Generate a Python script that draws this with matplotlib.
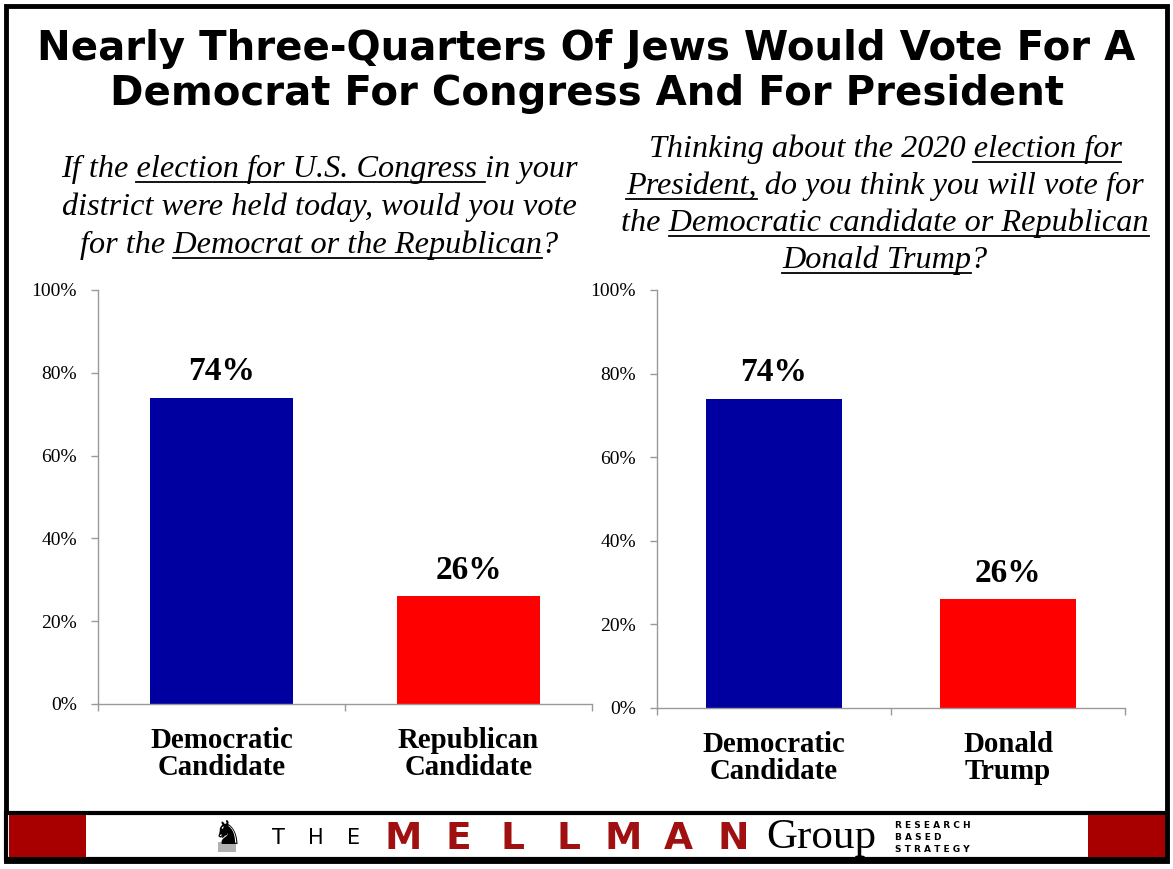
import matplotlib
matplotlib.use("Agg")
import matplotlib.pyplot as plt
from matplotlib.lines import Line2D
from matplotlib.patches import Rectangle

# chart data
congress_labels = ["Democratic\nCandidate", "Republican\nCandidate"]
congress_values = [74, 26]
president_labels = ["Democratic\nCandidate", "Donald\nTrump"]
president_values = [74, 26]
bar_colors = ["#0000A0", "#FF0000"]
yticks = [0, 20, 40, 60, 80, 100]

title_lines = ["Nearly Three-Quarters Of Jews Would Vote For A",
               "Democrat For Congress And For President"]

# (text, underlined) pieces for each subtitle line
left_question = [
    [("If the ", False), ("election for U.S. Congress ", True), ("in your", False)],
    [("district were held today, would you vote", False)],
    [("for the ", False), ("Democrat or the Republican", True), ("?", False)],
]
right_question = [
    [("Thinking about the 2020 ", False), ("election for", True)],
    [("President,", True), (" do you think you will vote for", False)],
    [("the ", False), ("Democratic candidate or Republican", True)],
    [("Donald Trump", True), ("?", False)],
]

W, H = 1173, 869
fig = plt.figure(figsize=(W / 100, H / 100), dpi=100)
renderer = fig.canvas.get_renderer()

SERIF = "Liberation Serif"


def fx(x):
    return x / W


def fy(y):
    return 1 - y / H


def text_width(s, **kw):
    # width of a string in pixels, spaces included (measured against a sentinel)
    t = fig.text(0, 0, s + "|", **kw)
    w1 = t.get_window_extent(renderer).width
    t.remove()
    t = fig.text(0, 0, "|", **kw)
    w0 = t.get_window_extent(renderer).width
    t.remove()
    return w1 - w0


def rich_line(pieces, xc, y, **kw):
    full = "".join(p for p, _ in pieces)
    total = text_width(full, **kw)
    x0 = xc - total / 2
    fig.text(fx(x0), fy(y), full, ha="left", va="baseline", **kw)
    prefix = ""
    for p, under in pieces:
        start = text_width(prefix, **kw) if prefix else 0.0
        prefix += p
        end = text_width(prefix, **kw)
        if under:
            fig.add_artist(Line2D([fx(x0 + start), fx(x0 + end)], [fy(y + 5), fy(y + 5)],
                                  color="black", lw=1.3))


# outer frame
fig.add_artist(Rectangle((fx(6), fy(861)), fx(1161), (855) / H, fill=False,
                         edgecolor="black", lw=3.5))

# title
for i, line in enumerate(title_lines):
    fig.text(0.5, fy(60 + i * 45), line, ha="center", va="baseline",
             fontsize=29, fontweight="bold", family="DejaVu Sans")

# questions
qkw = dict(fontsize=23.2, style="italic", family=SERIF)
for i, pieces in enumerate(left_question):
    rich_line(pieces, 319, 177 + i * 38, **qkw)
for i, pieces in enumerate(right_question):
    rich_line(pieces, 885, 157 + i * 37, **qkw)


def bar_panel(rect, labels, values):
    ax = fig.add_axes(rect)
    x = range(len(values))
    bars = ax.bar(x, values, width=0.58, color=bar_colors)
    ax.set_xlim(-0.5, len(values) - 0.5)
    ax.set_ylim(0, 100)
    ax.set_yticks(yticks)
    ax.set_yticklabels([f"{v}%" for v in yticks], family=SERIF, fontsize=14)
    ax.set_xticks([i - 0.5 for i in range(len(values) + 1)])
    ax.set_xticklabels([])
    for i, lab in enumerate(labels):
        ax.text(i, -5.5, lab, ha="center", va="top", fontsize=20.8, fontweight="bold",
                family=SERIF, linespacing=1.0)
    for b, v in zip(bars, values):
        ax.text(b.get_x() + b.get_width() / 2, v + 4.2, f"{v}%", ha="center",
                va="baseline", fontsize=24, fontweight="bold", family=SERIF)
    for s in ["top", "right"]:
        ax.spines[s].set_visible(False)
    for s in ["left", "bottom"]:
        ax.spines[s].set_color("#999999")
        ax.spines[s].set_linewidth(1.0)
    ax.tick_params(axis="both", direction="out", length=5, color="#999999", width=1.0,
                   pad=10)
    return ax


bar_panel([fx(98), fy(704), fx(592) - fx(98), (704 - 290) / H], congress_labels, congress_values)
bar_panel([fx(657), fy(708), fx(1125) - fx(657), (708 - 290) / H], president_labels, president_values)

# footer banner
fig.add_artist(Rectangle((fx(6), fy(859)), fx(1161), 46 / H, facecolor="white",
                         edgecolor="black", lw=3))
fig.add_artist(Rectangle((fx(9), fy(857)), fx(77), 42 / H, facecolor="#A80000", lw=0))
fig.add_artist(Rectangle((fx(1088), fy(857)), fx(77), 42 / H, facecolor="#A80000", lw=0))
fig.add_artist(Rectangle((fx(218), fy(852)), fx(18), 10 / H, facecolor="#B0B0B0", lw=0))
fig.text(fx(228), fy(834), "\u265e", ha="center", va="center", fontsize=24,
         family="DejaVu Sans", color="black")
for i, ch in enumerate("THE"):
    fig.text(fx(278 + i * 38), fy(838), ch, ha="center", va="center", fontsize=15,
             family="DejaVu Sans")
for i, ch in enumerate("MELLMAN"):
    fig.text(fx(403 + i * 55), fy(839), ch, ha="center", va="center", fontsize=27,
             family="DejaVu Sans", fontweight="semibold", color="#A01010")
fig.text(fx(821), fy(838), "Group", ha="center", va="center", fontsize=31,
         family=SERIF, color="black")
for i, w in enumerate(["R E S E A R C H", "B A S E D", "S T R A T E G Y"]):
    fig.text(fx(895), fy(826 + i * 12), w, ha="left", va="center", fontsize=6.5,
             family="DejaVu Sans", fontweight="bold")

fig.savefig("out.png", dpi=100)
